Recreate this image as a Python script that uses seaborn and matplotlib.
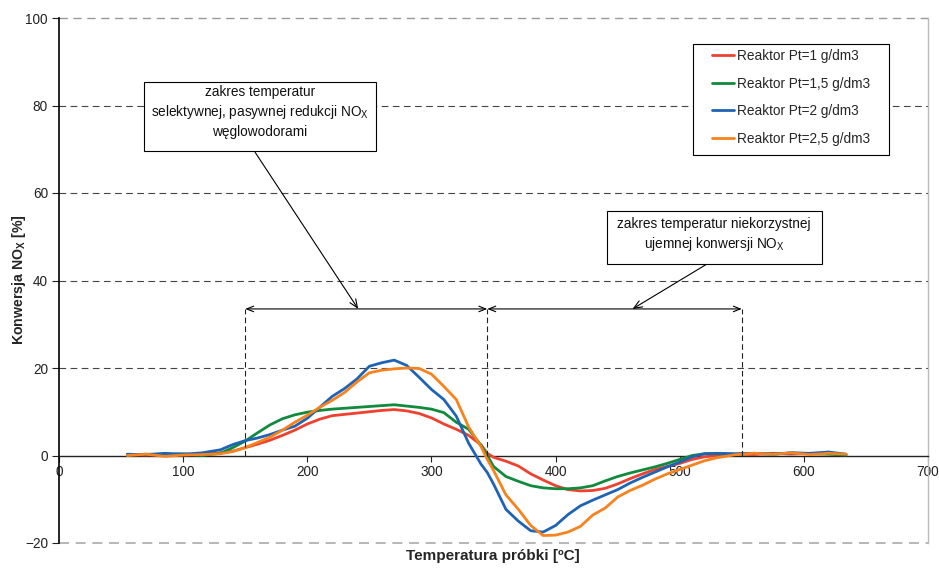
import matplotlib
matplotlib.use("Agg")
import matplotlib.pyplot as plt
import numpy as np
import pandas as pd
import seaborn as sns
from matplotlib.patches import Rectangle
from matplotlib.lines import Line2D

# ---------------- data ----------------
temperature = [55, 70, 85, 100, 115, 130, 140, 150, 160, 170, 180, 190, 200, 210, 220,
               230, 240, 250, 260, 270, 280, 290, 300, 310, 320, 330, 340, 345, 350,
               360, 370, 380, 390, 400, 410, 420, 430, 440, 450, 460, 470, 480, 490,
               500, 510, 520, 530, 545, 560, 575, 590, 605, 620, 634]

pt_1 = [0.2, 0.1, 0.3, 0.2, 0.3, 0.6, 1.0, 1.8, 2.6, 3.5, 4.6, 5.8, 7.2, 8.3, 9.1,
        9.4, 9.7, 10.0, 10.3, 10.5, 10.2, 9.6, 8.6, 7.2, 6.0, 4.6, 2.4, 0.5, -0.4,
        -1.3, -2.4, -4.2, -5.6, -6.9, -7.8, -8.1, -8.0, -7.5, -6.5, -5.3, -4.2, -3.2, -2.5,
        -1.8, -0.9, -0.3, 0.0, 0.3, 0.2, 0.5, 0.3, 0.5, 0.4, 0.2]

pt_15 = [0.1, 0.3, 0.2, 0.4, 0.0, 0.5, 1.8, 3.3, 5.2, 7.0, 8.4, 9.3, 9.9, 10.3, 10.6,
         10.8, 11.0, 11.2, 11.4, 11.6, 11.3, 11.0, 10.6, 9.8, 7.6, 6.0, 2.3, 0.0, -2.5,
         -4.8, -5.9, -6.9, -7.4, -7.6, -7.6, -7.4, -6.9, -5.8, -4.8, -4.0, -3.3, -2.6, -1.8,
         -0.9, 0.0, 0.4, 0.4, 0.3, 0.5, 0.3, 0.6, 0.4, 0.3, 0.1]

pt_2 = [0.3, 0.2, 0.5, 0.3, 0.6, 1.3, 2.5, 3.4, 4.0, 4.8, 5.8, 6.7, 8.5, 11.0, 13.5,
        15.3, 17.5, 20.4, 21.2, 21.8, 20.6, 17.9, 15.1, 12.8, 9.0, 2.8, -2.0, -3.9, -6.5,
        -12.3, -15.0, -17.2, -17.5, -16.0, -13.5, -11.5, -10.2, -9.0, -7.8, -6.3, -5.0, -3.8, -2.6,
        -1.5, -0.3, 0.4, 0.5, 0.4, 0.5, 0.3, 0.6, 0.5, 0.8, 0.3]

pt_25 = [0.0, 0.3, -0.2, 0.1, 0.2, 0.4, 0.9, 1.8, 3.0, 4.2, 5.8, 7.6, 9.2, 11.0, 12.6,
         14.4, 16.8, 18.9, 19.5, 19.8, 20.0, 19.9, 18.6, 15.8, 12.8, 6.5, 2.0, -0.9, -3.4,
         -9.0, -12.3, -16.0, -18.3, -18.2, -17.5, -16.2, -13.6, -12.0, -9.5, -8.0, -6.8, -5.4, -4.2,
         -3.2, -2.2, -1.2, -0.5, 0.2, 0.5, 0.3, 0.6, 0.2, 0.5, 0.3]

series_names = ["Reaktor Pt=1 g/dm3", "Reaktor Pt=1,5 g/dm3",
                "Reaktor Pt=2 g/dm3", "Reaktor Pt=2,5 g/dm3"]
series_values = [pt_1, pt_15, pt_2, pt_25]
colors = ["#EE4130", "#108A3C", "#1E63B4", "#F7821E"]

x_ticks = [0, 100, 200, 300, 400, 500, 600, 700]
y_ticks = [-20, 0, 20, 40, 60, 80, 100]
range_bounds = [150, 345, 550]
range_arrow_level = 33.5

box1_text = "zakres temperatur\nselektywnej, pasywnej redukcji NO$_X$\nwęglowodorami"
box2_text = "zakres temperatur niekorzystnej\nujemnej konwersji NO$_X$"

# ---------------- style ----------------
sns.set_style("white")
plt.rcParams["font.family"] = ["Liberation Sans", "DejaVu Sans"]
plt.rcParams["mathtext.default"] = "regular"

frames = []
for name, vals in zip(series_names, series_values):
    frames.append(pd.DataFrame({"T": temperature, "conv": vals, "series": name}))
df = pd.concat(frames, ignore_index=True)

W, H = 939, 568
fig = plt.figure(figsize=(W / 100, H / 100), dpi=100)
L, R, T, B = 59, 928, 18, 543
ax = fig.add_axes([L / W, 1 - B / H, (R - L) / W, (B - T) / H])

def px_to_axes(px, py):
    return (px - L) / (R - L), (B - py) / (B - T)

# grid lines
for v in [20, 40, 60, 80]:
    ax.axhline(v, color="#444444", lw=0.8, ls=(0, (6, 4)), zorder=1)
ax.axhline(100, color="#999999", lw=1.0, ls=(0, (6, 4)), zorder=1, clip_on=False)
ax.axhline(-20, color="#AAAAAA", lw=1.2, ls=(0, (6, 4)), zorder=1, clip_on=False)

sns.lineplot(data=df, x="T", y="conv", hue="series", hue_order=series_names,
             palette=colors, linewidth=2.0, ax=ax, legend=False,
             estimator=None, sort=False, zorder=3)

ax.set_xlim(0, 700)
ax.set_ylim(-20, 100)
ax.set_xticks(x_ticks)
ax.set_yticks(y_ticks)
ax.set_xlabel("")
ax.set_ylabel("")

ax.spines["bottom"].set_position(("data", 0))
ax.spines["bottom"].set_color("#222222")
ax.spines["bottom"].set_linewidth(1.0)
ax.spines["left"].set_color("black")
ax.spines["left"].set_linewidth(1.2)
ax.spines["top"].set_visible(False)
ax.spines["right"].set_color("#BBBBBB")
ax.spines["right"].set_linewidth(1.0)

ax.tick_params(axis="x", bottom=True, direction="out", length=4, width=0.8,
               labelsize=9.8, pad=3, colors="#222222")
ax.tick_params(axis="y", left=True, direction="out", length=5, width=0.8,
               labelsize=9.8, pad=3, colors="#222222")

# range markers
ax.vlines(range_bounds, 0, range_arrow_level, colors="#222222", lw=0.8,
          linestyles=(0, (5, 3)), zorder=4)
for a, b in [(range_bounds[0], range_bounds[1]), (range_bounds[1], range_bounds[2])]:
    ax.annotate("", xy=(a, range_arrow_level), xytext=(b, range_arrow_level),
                arrowprops=dict(arrowstyle="<->,head_length=0.5,head_width=0.2",
                                lw=0.8, color="black", shrinkA=0, shrinkB=0),
                zorder=4)

# box 1
bx, by = px_to_axes(144, 151)
bx2, by2 = px_to_axes(376, 82)
ax.add_patch(Rectangle((bx, by), bx2 - bx, by2 - by, transform=ax.transAxes,
                       fc="white", ec="black", lw=0.8, zorder=5))
tx, ty = px_to_axes(260, 112)
ax.text(tx, ty, box1_text, transform=ax.transAxes, ha="center", va="center",
        fontsize=9.8, linespacing=1.35, zorder=6, color="#111111")
ax.annotate("", xy=(241, range_arrow_level), xytext=(158, 69.3),
            arrowprops=dict(arrowstyle="->,head_length=0.6,head_width=0.25",
                            lw=0.8, color="black", shrinkA=0, shrinkB=0), zorder=4)

# box 2
bx, by = px_to_axes(607, 264)
bx2, by2 = px_to_axes(822, 211)
ax.add_patch(Rectangle((bx, by), bx2 - bx, by2 - by, transform=ax.transAxes,
                       fc="white", ec="black", lw=0.8, zorder=5))
tx, ty = px_to_axes(714, 235)
ax.text(tx, ty, box2_text, transform=ax.transAxes, ha="center", va="center",
        fontsize=9.8, linespacing=1.35, zorder=6, color="#111111")
ax.annotate("", xy=(462, range_arrow_level), xytext=(521, 43.6),
            arrowprops=dict(arrowstyle="->,head_length=0.6,head_width=0.25",
                            lw=0.8, color="black", shrinkA=0, shrinkB=0), zorder=4)

# legend with custom frame
fx, fy = px_to_axes(693, 155)
fx2, fy2 = px_to_axes(889, 44)
ax.add_patch(Rectangle((fx, fy), fx2 - fx, fy2 - fy, transform=ax.transAxes,
                       fc="white", ec="black", lw=0.8, zorder=5))
handles = [Line2D([0], [0], color=c, lw=2.0) for c in colors]
lx, ly = px_to_axes(712, 49)
leg = ax.legend(handles, series_names, loc="upper left", bbox_to_anchor=(lx, ly),
                frameon=False, fontsize=9.8, labelspacing=1.0, handlelength=1.65,
                handletextpad=0.2, borderpad=0, borderaxespad=0)
leg.set_zorder(6)

# axis labels
lx, ly = px_to_axes(19, 280)
ax.text(lx, ly, "Konwersja NO$_X$ [%]", transform=ax.transAxes, rotation=90,
        ha="center", va="center", fontsize=10.2, fontweight="bold")
lx, ly = px_to_axes(493, 556)
ax.text(lx, ly, "Temperatura próbki [ºC]", transform=ax.transAxes,
        ha="center", va="center", fontsize=11, fontweight="bold")

fig.savefig("out.png", dpi=100)
